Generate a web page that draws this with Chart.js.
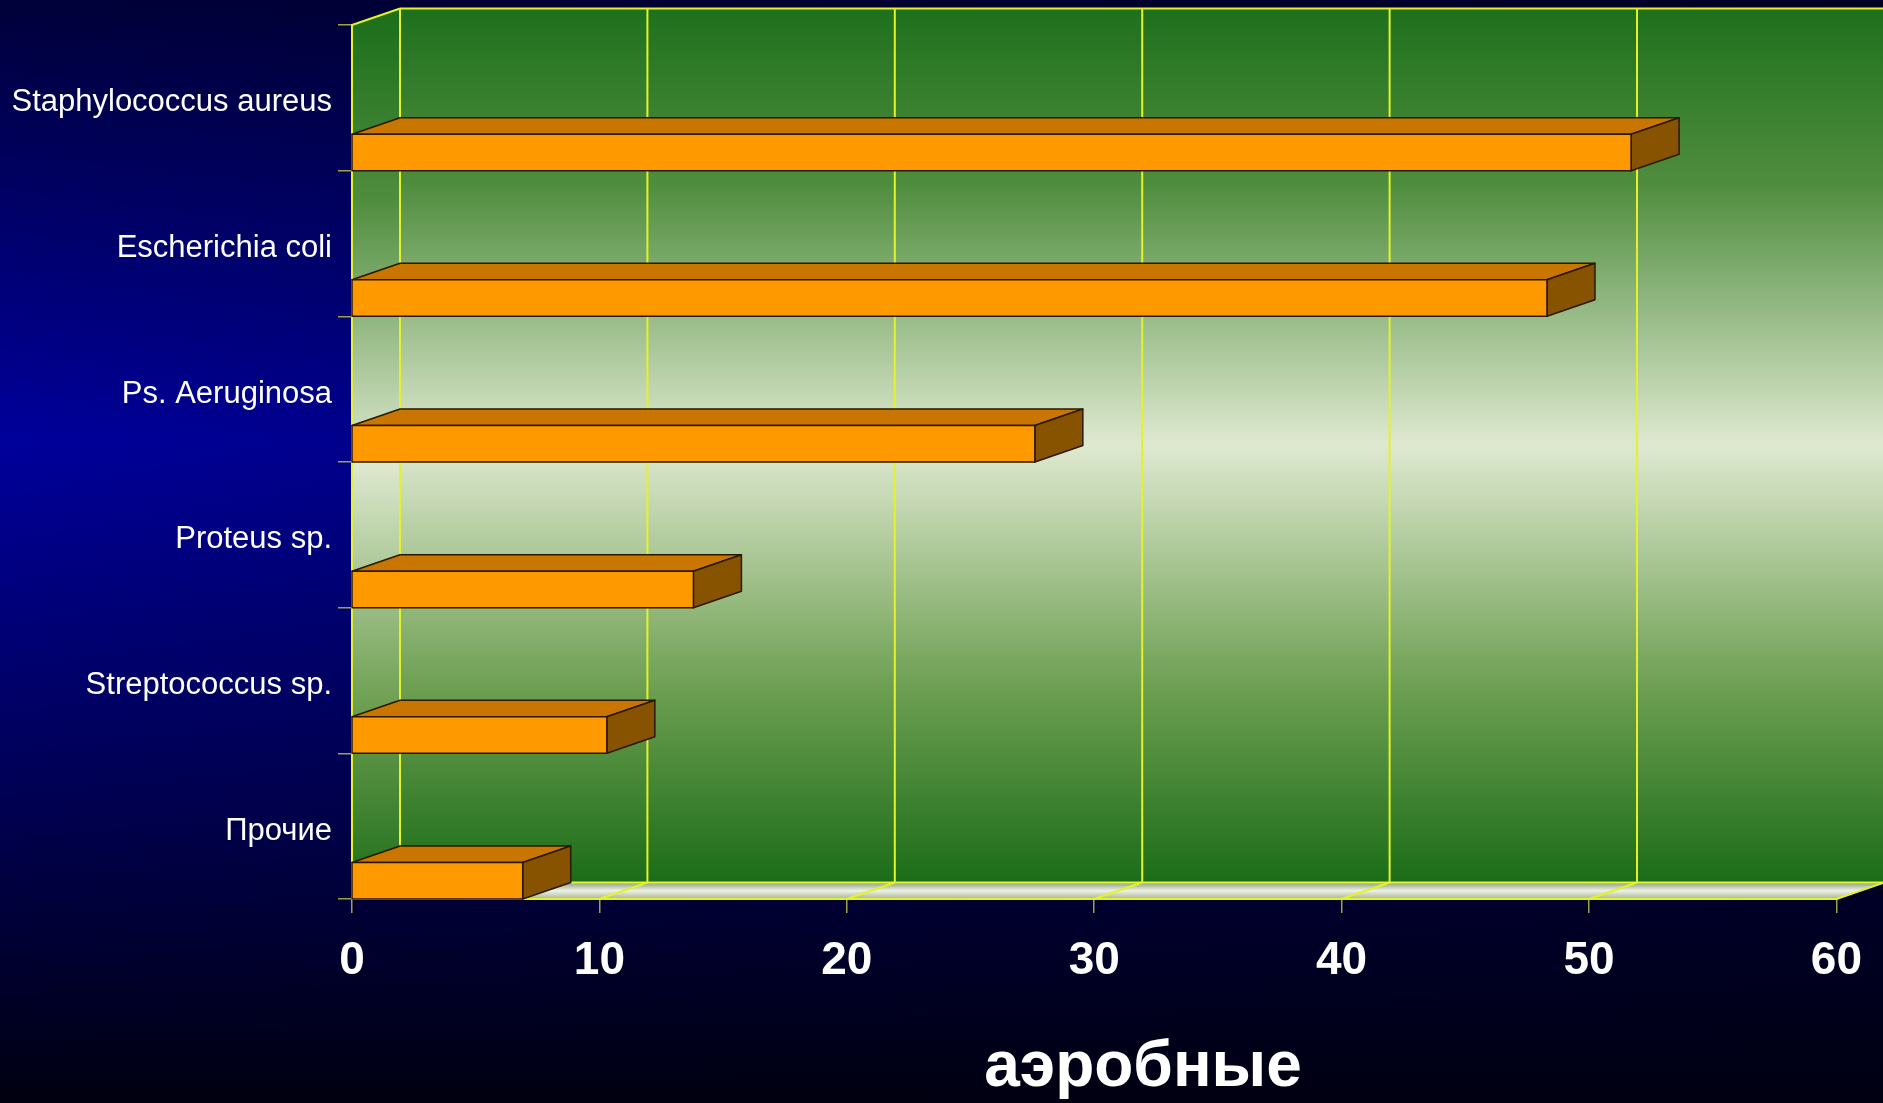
<!DOCTYPE html>
<html>
<head>
<meta charset="utf-8">
<script src="https://cdn.jsdelivr.net/npm/chart.js@4.4.1/dist/chart.umd.min.js"></script>
<style>
  html, body { margin: 0; padding: 0; background: #000030; overflow: hidden; }
  #wrap { width: 1883px; height: 1103px; position: relative; }
</style>
</head>
<body>
<div id="wrap"><canvas id="chart"></canvas></div>
<script>
// data
const categories = ['Staphylococcus aureus', 'Escherichia coli', 'Ps. Aeruginosa', 'Proteus sp.', 'Streptococcus sp.', 'Прочие'];
const values = [51.7, 48.3, 27.6, 13.8, 10.3, 6.9];
const xTicks = [0, 10, 20, 30, 40, 50, 60];
const axisTitle = 'аэробные';

// 3d look
const DX = 48, DY = -16.5, BAR_H = 36.5;
const GRID = '#e4f22a';
const FONT = "'Liberation Sans', Arial, sans-serif";

function wallGradient(ctx, y0, y1) {
    const g = ctx.createLinearGradient(0, y0, 0, y1);
    g.addColorStop(0, '#1e701c');
    g.addColorStop(0.2, '#4f8d3e');
    g.addColorStop(0.5, '#dfe9d0');
    g.addColorStop(0.78, '#6c9e50');
    g.addColorStop(1, '#1b6c18');
    return g;
}

function line(ctx, x1, y1, x2, y2) {
    ctx.beginPath();
    ctx.moveTo(x1, y1);
    ctx.lineTo(x2, y2);
    ctx.stroke();
}

const threeD = {
    id: 'threeD',
    beforeDraw(chart) {
        const { ctx, width, height, chartArea: a, scales: { x } } = chart;
        ctx.save();
        // slide background
        const bg = ctx.createLinearGradient(0, 0, 0, height);
        bg.addColorStop(0, '#00003a');
        bg.addColorStop(0.4, '#00009c');
        bg.addColorStop(0.72, '#000054');
        bg.addColorStop(1, '#000010');
        ctx.fillStyle = bg;
        ctx.fillRect(0, 0, width, height);
        const shade = ctx.createLinearGradient(0, 0, width, 0);
        shade.addColorStop(0, 'rgba(0,0,20,0)');
        shade.addColorStop(1, 'rgba(0,0,20,0.55)');
        ctx.fillStyle = shade;
        ctx.fillRect(0, 0, width, height);

        const bTop = a.top + DY, bBot = a.bottom + DY;
        const bLeft = a.left + DX, bRight = a.right + DX;

        // back wall
        ctx.fillStyle = wallGradient(ctx, bTop, bBot);
        ctx.fillRect(bLeft, bTop, bRight - bLeft, bBot - bTop);
        // left wall
        ctx.fillStyle = wallGradient(ctx, a.top, a.bottom);
        ctx.beginPath();
        ctx.moveTo(a.left, a.top);
        ctx.lineTo(bLeft, bTop);
        ctx.lineTo(bLeft, bBot);
        ctx.lineTo(a.left, a.bottom);
        ctx.closePath();
        ctx.fill();
        // floor
        const fl = ctx.createLinearGradient(0, bBot, 0, a.bottom);
        fl.addColorStop(0, '#8c9e7c');
        fl.addColorStop(0.5, '#eef2e6');
        fl.addColorStop(1, '#a6b596');
        ctx.fillStyle = fl;
        ctx.beginPath();
        ctx.moveTo(a.left, a.bottom);
        ctx.lineTo(bLeft, bBot);
        ctx.lineTo(bRight, bBot);
        ctx.lineTo(a.right, a.bottom);
        ctx.closePath();
        ctx.fill();

        // grid on back wall and floor
        ctx.strokeStyle = GRID;
        ctx.lineWidth = 2;
        xTicks.forEach(v => {
            const px = x.getPixelForValue(v);
            line(ctx, px + DX, bTop, px + DX, bBot);
            line(ctx, px, a.bottom, px + DX, bBot);
        });
        line(ctx, bLeft, bTop, bRight, bTop);
        line(ctx, bLeft, bBot, bRight, bBot);
        line(ctx, a.left, a.top, bLeft, bTop);
        ctx.restore();
    },
    beforeDatasetsDraw(chart) {
        const { ctx, scales: { x } } = chart;
        const base = x.getPixelForValue(0);
        const meta = chart.getDatasetMeta(0);
        ctx.save();
        ctx.strokeStyle = '#2a1800';
        ctx.lineWidth = 1.5;
        ctx.lineJoin = 'round';
        meta.data.forEach(el => {
            const p = el.getProps(['x', 'y', 'height'], true);
            const bot = p.y + p.height / 2;
            const top = bot - BAR_H;
            const x1 = p.x;
            // top face
            ctx.fillStyle = '#c87600';
            ctx.beginPath();
            ctx.moveTo(base, top);
            ctx.lineTo(base + DX, top + DY);
            ctx.lineTo(x1 + DX, top + DY);
            ctx.lineTo(x1, top);
            ctx.closePath();
            ctx.fill();
            ctx.stroke();
            // side face
            ctx.fillStyle = '#875300';
            ctx.beginPath();
            ctx.moveTo(x1, top);
            ctx.lineTo(x1 + DX, top + DY);
            ctx.lineTo(x1 + DX, bot + DY);
            ctx.lineTo(x1, bot);
            ctx.closePath();
            ctx.fill();
            ctx.stroke();
            // front face
            ctx.fillStyle = '#ff9900';
            ctx.fillRect(base, top, x1 - base, BAR_H);
            ctx.strokeRect(base, top, x1 - base, BAR_H);
        });
        ctx.restore();
        return false;
    },
    afterDraw(chart) {
        const { ctx } = chart;
        ctx.save();
        ctx.fillStyle = '#ffffff';
        ctx.font = 'bold 64px ' + FONT;
        ctx.textAlign = 'center';
        ctx.textBaseline = 'alphabetic';
        ctx.fillText(axisTitle, 1143, 1086);
        ctx.restore();
    }
};

new Chart(document.getElementById('chart'), {
    type: 'bar',
    data: {
        labels: categories,
        datasets: [{
            data: values,
            backgroundColor: '#ff9900',
            categoryPercentage: 1,
            barPercentage: 1
        }]
    },
    options: {
        indexAxis: 'y',
        responsive: true,
        maintainAspectRatio: false,
        animation: false,
        devicePixelRatio: 1,
        layout: { padding: { top: 25, right: 42, left: 0, bottom: 0 } },
        scales: {
            x: {
                type: 'linear',
                min: 0,
                max: 60,
                afterBuildTicks: s => { s.ticks = xTicks.map(v => ({ value: v })); },
                afterFit: s => { s.height = 204; },
                ticks: { color: '#ffffff', padding: 21, font: { family: FONT, size: 46, weight: 'bold' } },
                grid: { drawOnChartArea: false, drawTicks: true, tickLength: 14, color: '#a0a04c', lineWidth: 1.5 },
                border: { display: true, color: GRID, width: 2 }
            },
            y: {
                type: 'category',
                afterFit: s => { s.width = 352; },
                ticks: { color: '#ffffff', padding: 6, labelOffset: 5, font: { family: FONT, size: 31 } },
                grid: { drawOnChartArea: false, drawTicks: true, offset: true, tickLength: 14, color: '#a0a04c', lineWidth: 1.5 },
                border: { display: true, color: GRID, width: 2 }
            }
        },
        plugins: {
            legend: { display: false },
            tooltip: { enabled: false }
        }
    },
    plugins: [threeD]
});
</script>
</body>
</html>
